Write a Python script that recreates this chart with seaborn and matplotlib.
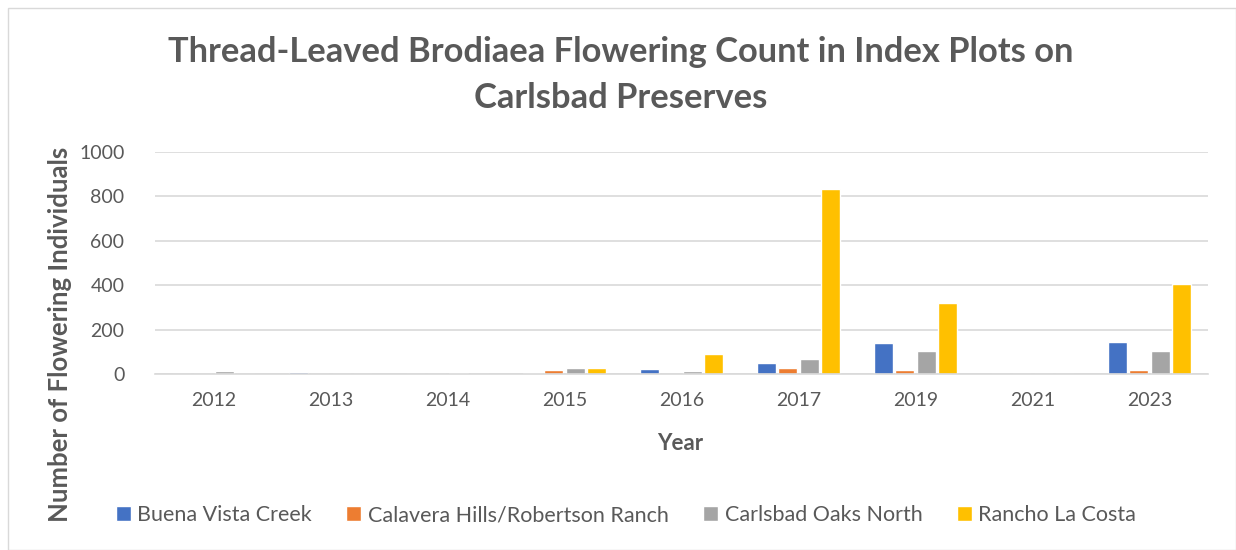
import matplotlib
matplotlib.use("Agg")
import matplotlib.pyplot as plt
import seaborn as sns
import pandas as pd
from matplotlib.patches import Rectangle

years = ["2012", "2013", "2014", "2015", "2016", "2017", "2019", "2021", "2023"]
buena_vista = [0, 10, 0, 5, 24, 48, 140, 0, 145]
calavera = [0, 0, 0, 20, 0, 25, 20, 0, 17]
oaks_north = [15, 0, 3, 28, 14, 66, 102, 0, 105]
rancho = [0, 0, 0, 27, 88, 835, 322, 0, 405]
series_names = ["Buena Vista Creek", "Calavera Hills/Robertson Ranch",
                "Carlsbad Oaks North", "Rancho La Costa"]
colors = ["#4472C4", "#ED7D31", "#A5A5A5", "#FFC000"]

rows = []
for name, vals in zip(series_names, [buena_vista, calavera, oaks_north, rancho]):
    for y, v in zip(years, vals):
        rows.append({"Year": y, "Count": v, "Site": name})
df = pd.DataFrame(rows)

sns.set_theme(style="white")
plt.rcParams['font.family'] = ['Lato', 'DejaVu Sans']

fig = plt.figure(figsize=(12.36, 5.5), dpi=100)
ax = fig.add_axes([155/1236, 1-374/550, (1208-155)/1236, (374-152)/550])

sns.barplot(data=df, x="Year", y="Count", hue="Site", order=years,
            hue_order=series_names, palette=colors, width=0.74, gap=0.12,
            ax=ax, legend=True, saturation=1)

ax.set_ylim(0, 1000)
ax.set_yticks([0, 200, 400, 600, 800, 1000])
ax.grid(axis="y", color="#d9d9d9", linewidth=1.2)
ax.set_axisbelow(True)
for s in ["top", "right", "left"]:
    ax.spines[s].set_visible(False)
ax.spines["bottom"].set_color("#d9d9d9")
ax.spines["bottom"].set_linewidth(1.2)
ax.tick_params(axis="both", length=0, labelsize=14, labelcolor="#595959")
ax.tick_params(axis="x", pad=13)
ax.tick_params(axis="y", pad=22)
ax.set_xlabel("")
ax.set_ylabel("")

fig.text(680/1236, 1-443/550, "Year", ha="center", va="center",
         fontsize=16, fontweight="bold", color="#595959")
fig.text(60/1236, 1-334/550, "Number of Flowering Individuals", ha="center",
         va="center", rotation=90, fontsize=18.5, fontweight="bold", color="#595959")
fig.text(621/1236, 1-75/550,
         "Thread-Leaved Brodiaea Flowering Count in Index Plots on\nCarlsbad Preserves",
         ha="center", va="center", fontsize=24.8, fontweight="bold",
         color="#595959", linespacing=1.55)

handles, labels = ax.get_legend_handles_labels()
ax.legend_.remove()
fig.legend(handles, labels, loc="center", bbox_to_anchor=(626/1236, 1-515/550),
           ncol=4, frameon=False, fontsize=15.5, handlelength=0.7,
           handleheight=0.7, handletextpad=0.3, columnspacing=1.6,
           labelcolor="#595959")

fig.patches.append(Rectangle((8/1236, 0), 1 - 8/1236, 1 - 8/550,
                             transform=fig.transFigure, fill=False,
                             edgecolor="#d9d9d9", linewidth=1))

fig.savefig("out.png", dpi=100)
